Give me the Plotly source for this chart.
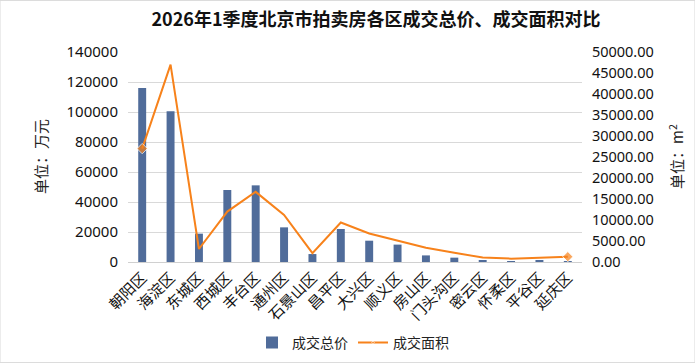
import plotly.graph_objects as go

districts = ["朝阳区", "海淀区", "东城区", "西城区", "丰台区", "通州区", "石景山区", "昌平区",
             "大兴区", "顺义区", "房山区", "门头沟区", "密云区", "怀柔区", "平谷区", "延庆区"]
total_price = [116000, 100500, 18900, 48000, 51100, 23100, 5300, 22000,
               14200, 11600, 4400, 2900, 1100, 500, 900, 400]
total_area = [27000, 47000, 3100, 12000, 16700, 11200, 2100, 9400,
              6800, 5100, 3400, 2200, 1050, 800, 950, 1270]

left_ticks = list(range(0, 140001, 20000))
right_ticks = list(range(0, 50001, 5000))

FONT = "Noto Sans, Noto Sans CJK SC, sans-serif"
CJK = "Noto Sans CJK SC"
ORANGE = "#F7821B"
BLUE = "#506C9A"

fig = go.Figure()
fig.add_trace(go.Bar(
    x=districts, y=total_price, name="成交总价",
    marker=dict(color=BLUE, line=dict(width=0)), width=0.28, yaxis="y"))
sizes = [8] + [0] * (len(districts) - 2) + [8]
fig.add_trace(go.Scatter(
    x=districts, y=total_area, name="成交面积", mode="lines+markers",
    line=dict(color=ORANGE, width=2),
    marker=dict(symbol="diamond", size=sizes, color=ORANGE), yaxis="y2"))

fig.update_layout(
    width=695, height=363,
    margin=dict(l=128, r=113, t=52, b=101, autoexpand=False),
    paper_bgcolor="white", plot_bgcolor="white",
    font=dict(family=FONT, size=14, color="#111111"),
    title=dict(text="<b>2026年1季度北京市拍卖房各区成交总价、成交面积对比</b>",
               x=(376 - 128) / 454, xref="paper", xanchor="center", y=0.945, yanchor="middle",
               font=dict(size=18, color="#111111", family=CJK)),
    bargap=0.72,
    xaxis=dict(tickangle=-45, showgrid=False, showline=True, linecolor="#D0D0D0",
               ticks="", automargin=False, range=[-0.5, len(districts) - 0.5],
               tickfont=dict(size=15, color="#111111", family=CJK)),
    yaxis=dict(range=[0, 140000], tickvals=left_ticks, tickformat="d", automargin=False,
               showgrid=True, gridcolor="#D9D9D9", gridwidth=1,
               ticks="outside", ticklen=6, tickcolor="rgba(0,0,0,0)",
               zeroline=False, tickfont=dict(size=15, color="#111111"), showline=False),
    yaxis2=dict(range=[0, 50000], tickvals=right_ticks, tickformat=".2f", overlaying="y",
                side="right", showgrid=False, ticks="outside", ticklen=6, automargin=False,
                tickcolor="rgba(0,0,0,0)",
                zeroline=False, tickfont=dict(size=14.5, color="#111111")),
    legend=dict(orientation="h", x=(353 - 128) / 454, xanchor="center", y=-0.385,
                yanchor="middle", font=dict(size=14, color="#222222", family=CJK),
                traceorder="normal", itemwidth=30),
    annotations=[
        dict(text="单位：万元", xref="paper", yref="paper", x=(40 - 128) / 454, y=0.5,
             xanchor="center", yanchor="middle", textangle=-90, showarrow=False,
             font=dict(size=15, color="#222222", family=CJK)),
        dict(text="单位：m<sup>2</sup>", xref="paper", yref="paper", x=(676 - 128) / 454,
             y=0.5, xanchor="center", yanchor="middle", textangle=-90, showarrow=False,
             font=dict(size=15, color="#222222", family=CJK)),
    ],
    shapes=[dict(type="rect", xref="paper", yref="paper", x0=-128/454, x1=1+113/454,
                 y0=-101/210+0.002, y1=1+52/210-0.002,
                 line=dict(color="#D9D9D9", width=1))],
)

fig.write_html("out.html", config={"displayModeBar": False},
               post_script="document.body.style.margin='0';document.body.style.overflow='hidden';")
